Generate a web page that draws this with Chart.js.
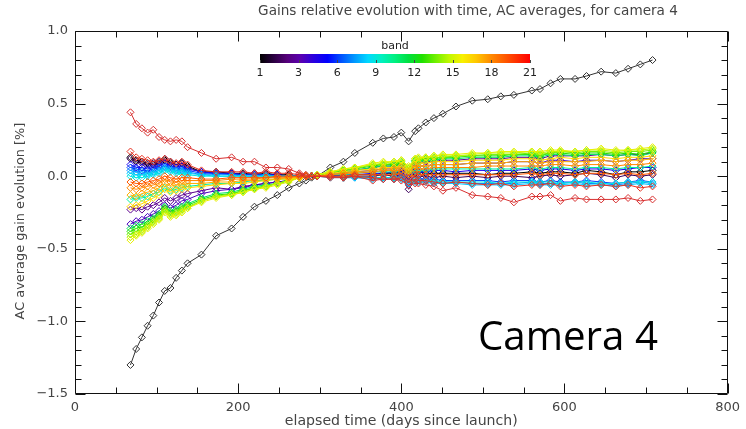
<!DOCTYPE html>
<html><head><meta charset="utf-8">
<script src="https://cdn.jsdelivr.net/npm/chart.js@4.4.0/dist/chart.umd.min.js"></script>
<style>html,body{margin:0;padding:0;background:#fff;overflow:hidden}#wrap{width:746px;height:429px;position:relative}</style>
</head><body><div id="wrap"><canvas id="c" width="746" height="429"></canvas></div>
<script>
// ---------- data ----------
const days = [68,75,82,89,96,103,110,117,124,131,138,155,173,192,206,220,234,248,262,275,283,290,297,313,329,343,365,378,391,400,409,417,421,430,440,451,467,487,506,522,538,560,570,583,595,613,627,645,663,678,693,708];

const blackCurve = [-1.30,-1.19,-1.11,-1.03,-0.96,-0.87,-0.79,-0.77,-0.70,-0.65,-0.60,-0.54,-0.41,-0.36,-0.28,-0.21,-0.17,-0.13,-0.08,-0.05,-0.03,-0.01,0.00,0.06,0.10,0.16,0.23,0.26,0.27,0.30,0.24,0.31,0.33,0.37,0.40,0.43,0.48,0.52,0.53,0.55,0.56,0.59,0.60,0.64,0.67,0.67,0.69,0.72,0.71,0.74,0.77,0.80];

const band1 = [0.13,0.11,0.10,0.09,0.08,0.09,0.11,0.09,0.08,0.09, 0.07,0.03,0.03,0.02,0.02,0.01,0.02,0.01,0.01,0.00, 0.00,0.00,0.00,0.01,0.00,0.01,0.01,0.02,0.02,0.03, -0.02,0.02,0.03,0.02,0.02,0.02,0.02,0.02,0.01,0.02, 0.02,0.03,0.02,0.03,0.03,0.02,0.04,0.03,0.01,0.03, 0.03,0.04];
const band2 = [0.12,0.10,0.09,0.08,0.09,0.10,0.12,0.10,0.08,0.09, 0.06,0.03,0.02,0.02,0.01,0.02,0.01,0.01,0.00,0.00, 0.00,0.00,0.00,0.00,-0.01,0.00,0.00,0.01,0.00,0.01, -0.09,-0.02,0.00,0.00,-0.01,0.00,-0.01,0.00,-0.01,0.00, 0.00,-0.01,0.00,0.01,0.00,0.01,0.02,0.01,-0.01,0.01, 0.00,0.01];
const band3 = [-0.23,-0.22,-0.23,-0.21,-0.20,-0.18,-0.15,-0.17,-0.15,-0.13, -0.12,-0.10,-0.08,-0.09,-0.07,-0.06,-0.05,-0.04,-0.03,-0.01, 0.00,0.00,0.00,0.02,0.03,0.04,0.06,0.07,0.07,0.08, 0.03,0.08,0.09,0.10,0.10,0.11,0.11,0.12,0.12,0.12, 0.13,0.13,0.12,0.14,0.14,0.14,0.14,0.15,0.14,0.15, 0.15,0.16];
const band4 = [-0.33,-0.31,-0.30,-0.28,-0.26,-0.24,-0.20,-0.22,-0.20,-0.17, -0.16,-0.12,-0.10,-0.09,-0.08,-0.06,-0.05,-0.04,-0.03,-0.01, 0.00,0.00,0.00,0.01,0.02,0.03,0.04,0.05,0.05,0.06, 0.00,0.06,0.07,0.07,0.08,0.08,0.08,0.09,0.09,0.09, 0.10,0.10,0.09,0.11,0.11,0.10,0.11,0.11,0.10,0.11, 0.12,0.12];
const band5 = [0.08,0.06,0.06,0.05,0.06,0.07,0.09,0.07,0.06,0.07, 0.05,0.03,0.02,0.02,0.01,0.01,0.01,0.01,0.00,0.00, 0.00,0.00,0.00,0.00,0.01,0.01,0.02,0.02,0.03,0.03, -0.01,0.03,0.03,0.03,0.04,0.04,0.03,0.04,0.04,0.04, 0.04,0.05,0.04,0.05,0.05,0.04,0.05,0.05,0.04,0.05, 0.06,0.06];
const band6 = [0.06,0.05,0.04,0.04,0.05,0.06,0.07,0.06,0.05,0.05, 0.04,0.02,0.02,0.01,0.01,0.01,0.01,0.00,0.00,0.00, 0.00,0.00,0.00,0.00,0.00,0.00,-0.01,-0.01,-0.01,0.00, -0.04,-0.02,-0.02,-0.02,-0.02,-0.03,-0.03,-0.03,-0.03,-0.04, -0.03,-0.03,-0.04,-0.03,-0.04,-0.04,-0.03,-0.04,-0.05,-0.04, -0.03,-0.04];
const band7 = [0.04,0.03,0.03,0.02,0.03,0.04,0.06,0.05,0.04,0.04, 0.03,0.01,0.01,0.01,0.00,0.00,0.01,0.00,0.00,0.00, 0.00,0.00,0.00,0.00,-0.01,-0.01,-0.01,-0.02,-0.02,-0.01, -0.05,-0.03,-0.03,-0.03,-0.04,-0.04,-0.04,-0.05,-0.05,-0.05, -0.05,-0.04,-0.05,-0.05,-0.05,-0.04,-0.05,-0.05,-0.06,-0.05, -0.04,-0.05];
const band8 = [0.02,0.01,0.01,0.01,0.02,0.03,0.05,0.04,0.03,0.03, 0.02,0.01,0.00,0.00,0.00,0.00,0.00,0.00,0.00,0.00, 0.00,0.00,0.00,-0.01,-0.01,-0.01,-0.02,-0.02,-0.02,-0.02, -0.05,-0.04,-0.04,-0.04,-0.05,-0.05,-0.05,-0.06,-0.06,-0.06, -0.06,-0.05,-0.06,-0.06,-0.06,-0.05,-0.06,-0.06,-0.07,-0.06, -0.05,-0.06];
const band9 = [0.00,-0.01,-0.01,0.00,0.01,0.02,0.04,0.03,0.02,0.02, 0.01,0.00,0.00,0.00,0.00,-0.01,0.00,0.00,0.00,0.00, 0.00,0.00,0.00,0.00,-0.01,0.00,-0.01,-0.01,-0.01,-0.01, -0.04,-0.03,-0.03,-0.03,-0.03,-0.04,-0.04,-0.04,-0.04,-0.05, -0.04,-0.04,-0.04,-0.04,-0.05,-0.04,-0.04,-0.05,-0.05,-0.04, -0.04,-0.04];
const band10 = [-0.16,-0.15,-0.15,-0.14,-0.12,-0.11,-0.08,-0.10,-0.09,-0.08, -0.07,-0.06,-0.05,-0.05,-0.04,-0.03,-0.03,-0.02,-0.02,-0.01, 0.00,0.00,0.00,0.01,0.01,0.02,0.03,0.03,0.03,0.04, 0.01,0.04,0.04,0.04,0.05,0.05,0.05,0.05,0.05,0.05, 0.05,0.06,0.05,0.06,0.06,0.05,0.06,0.06,0.05,0.06, 0.06,0.07];
const band11 = [-0.36,-0.34,-0.33,-0.31,-0.29,-0.26,-0.21,-0.24,-0.23,-0.21, -0.19,-0.15,-0.12,-0.11,-0.09,-0.07,-0.06,-0.05,-0.03,-0.01, 0.00,0.00,0.00,0.02,0.03,0.04,0.06,0.07,0.07,0.08, 0.04,0.10,0.10,0.11,0.11,0.12,0.12,0.13,0.13,0.13, 0.14,0.14,0.13,0.15,0.15,0.14,0.15,0.15,0.14,0.15, 0.14,0.16];
const band12 = [-0.38,-0.36,-0.35,-0.33,-0.30,-0.27,-0.22,-0.25,-0.24,-0.22, -0.20,-0.16,-0.13,-0.12,-0.10,-0.08,-0.07,-0.05,-0.03,-0.01, 0.00,0.00,0.01,0.02,0.04,0.05,0.07,0.08,0.08,0.09, 0.05,0.11,0.11,0.12,0.12,0.13,0.13,0.14,0.14,0.14, 0.15,0.15,0.14,0.16,0.16,0.15,0.16,0.16,0.15,0.16, 0.15,0.17];
const band13 = [-0.40,-0.38,-0.37,-0.34,-0.31,-0.28,-0.23,-0.26,-0.25,-0.23, -0.21,-0.17,-0.14,-0.12,-0.10,-0.08,-0.07,-0.05,-0.03,-0.01, 0.00,0.00,0.01,0.03,0.04,0.05,0.08,0.08,0.09,0.10, 0.05,0.11,0.12,0.12,0.13,0.13,0.14,0.14,0.15,0.15, 0.15,0.16,0.15,0.16,0.17,0.16,0.17,0.17,0.16,0.17, 0.17,0.18];
const band14 = [-0.42,-0.40,-0.38,-0.35,-0.32,-0.29,-0.24,-0.27,-0.26,-0.24, -0.22,-0.17,-0.14,-0.13,-0.11,-0.09,-0.07,-0.05,-0.03,-0.01, 0.00,0.00,0.01,0.03,0.05,0.06,0.08,0.09,0.10,0.11, 0.06,0.12,0.12,0.13,0.14,0.14,0.14,0.15,0.16,0.16, 0.16,0.17,0.16,0.17,0.17,0.17,0.18,0.18,0.17,0.18, 0.18,0.19];
const band15 = [-0.44,-0.41,-0.39,-0.36,-0.33,-0.30,-0.25,-0.28,-0.27,-0.25, -0.22,-0.18,-0.15,-0.13,-0.11,-0.09,-0.08,-0.06,-0.04,-0.01, 0.00,0.00,0.01,0.03,0.05,0.06,0.09,0.10,0.10,0.11, 0.07,0.12,0.13,0.13,0.14,0.15,0.15,0.16,0.16,0.17, 0.17,0.17,0.17,0.18,0.18,0.17,0.18,0.19,0.18,0.18, 0.19,0.20];
const band16 = [-0.21,-0.20,-0.19,-0.17,-0.15,-0.13,-0.09,-0.11,-0.10,-0.09, -0.08,-0.07,-0.06,-0.05,-0.05,-0.04,-0.03,-0.02,-0.02,-0.01, 0.00,0.00,0.00,0.02,0.03,0.04,0.05,0.06,0.06,0.07, 0.04,0.08,0.09,0.09,0.10,0.10,0.10,0.11,0.11,0.11, 0.12,0.12,0.11,0.12,0.13,0.12,0.13,0.13,0.12,0.13, 0.13,0.14];
const band17 = [-0.13,-0.14,-0.12,-0.11,-0.10,-0.08,-0.05,-0.07,-0.06,-0.06, -0.05,-0.05,-0.04,-0.04,-0.03,-0.03,-0.02,-0.02,-0.01,-0.01, 0.00,0.00,0.00,0.01,0.02,0.03,0.04,0.05,0.05,0.06, 0.03,0.07,0.07,0.07,0.08,0.08,0.08,0.09,0.09,0.09, 0.10,0.10,0.09,0.10,0.10,0.10,0.10,0.11,0.10,0.11, 0.11,0.12];
const band18 = [-0.08,-0.09,-0.08,-0.07,-0.06,-0.05,-0.02,-0.04,-0.04,-0.03, -0.03,-0.03,-0.03,-0.02,-0.02,-0.02,-0.01,-0.01,-0.01,0.00, 0.00,0.00,0.00,0.01,0.02,0.02,0.03,0.04,0.04,0.04, 0.01,0.05,0.05,0.05,0.06,0.06,0.06,0.06,0.07,0.07, 0.07,0.07,0.07,0.08,0.08,0.07,0.08,0.08,0.07,0.08, 0.08,0.09];
const band19 = [-0.04,-0.05,-0.05,-0.04,-0.03,-0.02,0.00,-0.01,-0.02,-0.01, -0.01,-0.02,-0.02,-0.01,-0.01,-0.01,-0.01,0.00,0.00,0.00, 0.00,0.00,0.00,0.00,0.00,0.01,0.01,0.01,0.01,0.02, -0.01,0.01,0.01,0.01,0.01,0.01,0.01,0.01,0.01,0.01, 0.01,0.02,0.01,0.02,0.02,0.01,0.02,0.02,0.01,0.02, 0.01,0.02];
const band20 = [0.17,0.13,0.12,0.11,0.10,0.11,0.12,0.10,0.09,0.10, 0.08,0.04,0.03,0.03,0.03,0.02,0.03,0.02,0.02,0.01, 0.00,0.00,0.00,0.00,-0.01,0.00,-0.01,-0.02,-0.02,-0.01, -0.04,-0.02,-0.03,-0.03,-0.04,-0.05,-0.04,-0.05,-0.06,-0.05, -0.07,-0.06,-0.06,-0.05,-0.07,-0.06,-0.07,-0.06,-0.07,-0.06, -0.08,-0.07];
const band21 = [0.44,0.36,0.33,0.30,0.32,0.27,0.25,0.24,0.25,0.24, 0.20,0.16,0.12,0.13,0.10,0.10,0.06,0.06,0.05,0.02, 0.01,0.00,0.00,-0.01,-0.01,0.00,-0.03,-0.02,-0.02,-0.03, -0.06,-0.05,-0.05,-0.06,-0.07,-0.10,-0.08,-0.13,-0.14,-0.15, -0.18,-0.14,-0.14,-0.13,-0.17,-0.15,-0.16,-0.16,-0.16,-0.15, -0.17,-0.16];

const bandSeries = [band1,band2,band3,band4,band5,band6,band7,band8,band9,band10,band11,band12,band13,band14,band15,band16,band17,band18,band19,band20,band21];
const bandColors = ['#000000','#3a005a','#5c0090','#4a00c0','#1a00f0','#0040ff','#0088ff','#00c8ff','#00e8e0','#00f0a0','#00e860','#20e000','#70f000','#b8f800','#e8f000','#ffd800','#ffb000','#ff8800','#ff5800','#e83020','#d83030'];
const colorbarStops = ['#000000','#2a0040','#55007a','#5a00b0','#2800e0','#0000ff','#0050ff','#0098ff','#00d8ff','#00f0c0','#00f080','#00e040','#20e000','#70f000','#c0f800','#f8f000','#ffc800','#ff9000','#ff6000','#ff3000','#ff0000'];
const colorbarLabels = ['1','3','6','9','12','15','18','21'];
const xTickValues = [0,200,400,600,800];
const xTickLabels = ['0','200','400','600','800'];
const yTickValues = [-1.5,-1.0,-0.5,0.0,0.5,1.0];
const yTickLabels = ['\u22121.5','\u22121.0','\u22120.5','0.0','0.5','1.0'];
const titleText = 'Gains relative evolution with time, AC averages, for camera 4';
const xTitle = 'elapsed time (days since launch)';
const yTitle = 'AC average gain evolution [%]';
const colorbarTitle = 'band';
const cameraText = 'Camera 4';

// ---------- datasets ----------
const toPts = arr => days.map((d,i)=>({x:d,y:arr[i]}));
const datasets = [];
bandSeries.forEach((arr,i)=>{
  datasets.push({
    label:'band '+(i+1), data:toPts(arr),
    borderColor:bandColors[i], pointBorderColor:bandColors[i],
    backgroundColor:'rgba(0,0,0,0)', pointBackgroundColor:'rgba(0,0,0,0)',
    borderWidth:1, pointStyle:'rectRot', pointRadius:3.5, pointBorderWidth:1,
    tension:0, order: 30 - i
  });
});
datasets.push({
  label:'total', data:toPts(blackCurve),
  borderColor:'#333', pointBorderColor:'#333',
  backgroundColor:'rgba(0,0,0,0)', pointBackgroundColor:'rgba(0,0,0,0)',
  borderWidth:1, pointStyle:'rectRot', pointRadius:3.5, pointBorderWidth:1,
  tension:0, order: 40
});

const FONT = '"DejaVu Sans", sans-serif';

function fitFont(ctx, text, family, width, base){
  ctx.font = base + 'px ' + family;
  const w = ctx.measureText(text).width;
  return base * width / w;
}

const deco = {
  id:'deco',
  beforeDraw(chart){
    const ctx = chart.ctx;
    ctx.save(); ctx.fillStyle='#fff'; ctx.fillRect(0,0,chart.width,chart.height); ctx.restore();
  },
  afterDraw(chart){
    const {ctx, chartArea:a, scales:{x,y}} = chart;
    ctx.save();
    ctx.strokeStyle='#111'; ctx.lineWidth=1;
    const L=Math.round(a.left)+0.5, R=Math.round(a.right)-0.5, T=Math.round(a.top)+0.5, B=Math.round(a.bottom)-0.5;
    ctx.beginPath();
    ctx.rect(L,T,R-L,B-T);
    for(let v=0; v<=800; v+=50){
      const px = Math.round(x.getPixelForValue(v))+0.5;
      const len = (v%200===0)?10:6;
      ctx.moveTo(px,B); ctx.lineTo(px,B-len);
      ctx.moveTo(px,T); ctx.lineTo(px,T+len);
    }
    for(let k=-15; k<=10; k++){
      const v=k/10;
      const py = Math.round(y.getPixelForValue(v))+0.5;
      const len = (k%5===0)?10:6;
      ctx.moveTo(L,py); ctx.lineTo(L+len,py);
      ctx.moveTo(R,py); ctx.lineTo(R-len,py);
    }
    ctx.stroke();

    // titles
    ctx.fillStyle='#444'; ctx.textAlign='center'; ctx.textBaseline='middle';
    let fs = fitFont(ctx, titleText, FONT, 420, 13);
    ctx.font = fs.toFixed(2)+'px '+FONT;
    ctx.fillText(titleText, 468, 11);
    fs = fitFont(ctx, xTitle, FONT, 233, 13);
    ctx.font = fs.toFixed(2)+'px '+FONT;
    ctx.fillText(xTitle, (a.left+a.right)/2, 421);
    fs = fitFont(ctx, yTitle, FONT, 197, 13);
    ctx.save(); ctx.translate(21, 221); ctx.rotate(-Math.PI/2);
    ctx.font = fs.toFixed(2)+'px '+FONT;
    ctx.fillText(yTitle, 0, 0); ctx.restore();

    // colorbar
    const cbL=260, cbR=530, cbT=54, cbB=63;
    const g = ctx.createLinearGradient(cbL,0,cbR,0);
    colorbarStops.forEach((c,i)=>g.addColorStop(i/(colorbarStops.length-1), c));
    ctx.fillStyle=g; ctx.fillRect(cbL,cbT,cbR-cbL,cbB-cbT);
    ctx.strokeStyle='#444'; ctx.lineWidth=1;
    ctx.beginPath();
    colorbarLabels.forEach((lab,i)=>{
      const px = Math.round(cbL + i*(cbR-cbL)/(colorbarLabels.length-1))+0.5;
      ctx.moveTo(px,cbB); ctx.lineTo(px,cbB-3);
    });
    ctx.stroke();
    ctx.fillStyle='#222'; ctx.font='11px '+FONT; ctx.textBaseline='middle';
    colorbarLabels.forEach((lab,i)=>{
      const px = cbL + i*(cbR-cbL)/(colorbarLabels.length-1);
      ctx.fillText(lab, px, 73);
    });
    ctx.fillText(colorbarTitle, 395, 46);

    // camera label
    fs = fitFont(ctx, cameraText, '"Open Sans", sans-serif', 180, 40);
    ctx.font = fs.toFixed(2)+'px "Open Sans", sans-serif';
    ctx.fillStyle='#000'; ctx.textAlign='left'; ctx.textBaseline='alphabetic';
    ctx.fillText(cameraText, 478, 350);
    ctx.restore();
  }
};

new Chart(document.getElementById('c'), {
  type:'line',
  data:{datasets},
  options:{
    responsive:false, animation:false, devicePixelRatio:1,
    layout:{padding:{top:31,right:11,left:0,bottom:0}},
    plugins:{legend:{display:false}, tooltip:{enabled:false}, title:{display:false}},
    scales:{
      x:{type:'linear', min:0, max:800,
        grid:{display:false, drawTicks:false}, border:{display:false},
        afterBuildTicks:s=>{ s.ticks = xTickValues.map(v=>({value:v})); },
        afterFit:s=>{ s.height = 35; },
        ticks:{padding:6, color:'#444', font:{family:'DejaVu Sans', size:13}, maxRotation:0,
          callback:(v,i)=>xTickLabels[i]}
      },
      y:{type:'linear', min:-1.5, max:1.0,
        grid:{display:false, drawTicks:false}, border:{display:false},
        afterBuildTicks:s=>{ s.ticks = yTickValues.map(v=>({value:v})); },
        afterFit:s=>{ s.width = 75; },
        ticks:{padding:7, color:'#444', font:{family:'DejaVu Sans', size:13},
          callback:(v,i)=>yTickLabels[i]}
      }
    }
  },
  plugins:[deco]
});
</script></body></html>
